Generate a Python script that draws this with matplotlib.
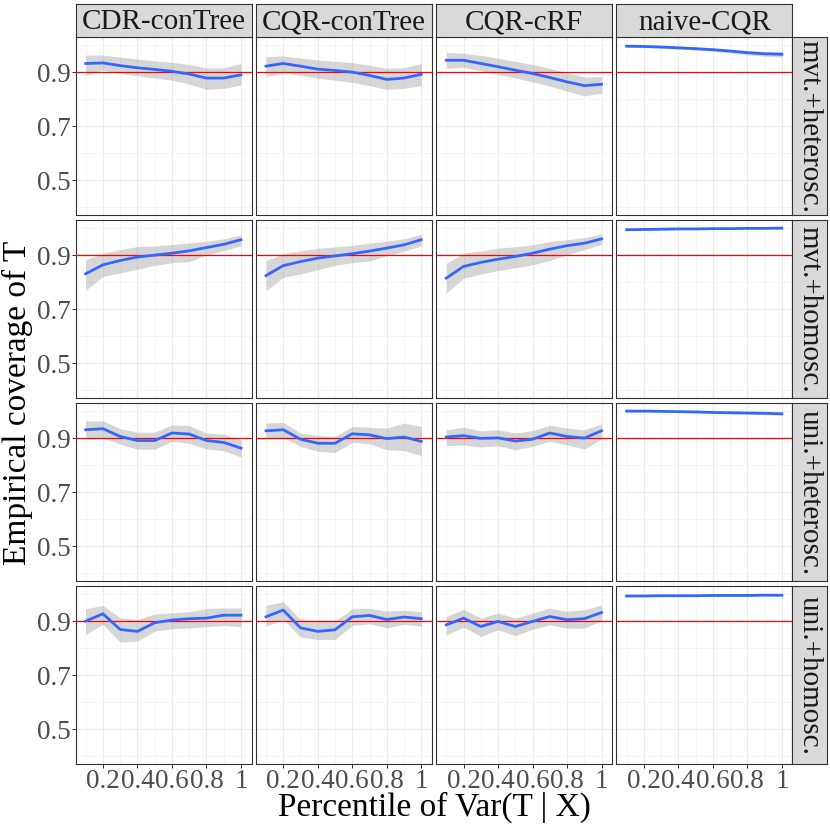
import numpy as np
import matplotlib
matplotlib.use("Agg")
import matplotlib.pyplot as plt

plt.rcParams['font.family'] = ['Liberation Serif', 'DejaVu Serif']

# facets
methods = ['CDR-conTree', 'CQR-conTree', 'CQR-cRF', 'naive-CQR']
settings = ['mvt.+heterosc.', 'mvt.+homosc.', 'uni.+heterosc.', 'uni.+homosc.']
pct = [0.1, 0.2, 0.3, 0.4, 0.5, 0.6, 0.7, 0.8, 0.9, 1.0]
target = 0.9

# mvt.+heterosc. (rows: methods)
mvt_het_mean = [[0.932, 0.934, 0.924, 0.916, 0.910, 0.903, 0.893, 0.878, 0.878, 0.890],
                [0.922, 0.932, 0.922, 0.911, 0.906, 0.900, 0.888, 0.873, 0.878, 0.892],
                [0.944, 0.944, 0.932, 0.920, 0.907, 0.895, 0.880, 0.864, 0.850, 0.855],
                [0.996, 0.995, 0.993, 0.990, 0.987, 0.983, 0.978, 0.972, 0.968, 0.966]]
mvt_het_lo = [[0.889, 0.907, 0.895, 0.886, 0.878, 0.870, 0.856, 0.836, 0.840, 0.852],
              [0.883, 0.897, 0.888, 0.878, 0.870, 0.862, 0.850, 0.836, 0.840, 0.850],
              [0.914, 0.918, 0.905, 0.892, 0.878, 0.864, 0.848, 0.830, 0.812, 0.822],
              [0.992, 0.991, 0.988, 0.985, 0.981, 0.977, 0.971, 0.964, 0.959, 0.956]]
mvt_het_hi = [[0.963, 0.963, 0.956, 0.948, 0.942, 0.936, 0.928, 0.916, 0.916, 0.932],
              [0.957, 0.960, 0.952, 0.945, 0.940, 0.935, 0.925, 0.914, 0.916, 0.932],
              [0.973, 0.970, 0.962, 0.951, 0.940, 0.928, 0.914, 0.898, 0.882, 0.884],
              [0.999, 0.999, 0.997, 0.995, 0.992, 0.989, 0.985, 0.980, 0.977, 0.976]]

# mvt.+homosc.
mvt_hom_mean = [[0.831, 0.864, 0.880, 0.893, 0.900, 0.907, 0.916, 0.928, 0.940, 0.957],
                [0.824, 0.861, 0.876, 0.889, 0.897, 0.905, 0.915, 0.926, 0.938, 0.957],
                [0.815, 0.858, 0.873, 0.885, 0.895, 0.907, 0.922, 0.935, 0.944, 0.960],
                [0.994, 0.995, 0.996, 0.997, 0.997, 0.998, 0.998, 0.999, 0.999, 1.000]]
mvt_hom_lo = [[0.770, 0.821, 0.834, 0.848, 0.862, 0.872, 0.876, 0.900, 0.916, 0.935],
              [0.768, 0.818, 0.830, 0.846, 0.862, 0.872, 0.878, 0.898, 0.914, 0.935],
              [0.759, 0.815, 0.830, 0.843, 0.853, 0.864, 0.880, 0.902, 0.920, 0.940],
              [0.991, 0.992, 0.993, 0.994, 0.995, 0.995, 0.996, 0.996, 0.997, 0.997]]
mvt_hom_hi = [[0.883, 0.907, 0.920, 0.932, 0.934, 0.939, 0.945, 0.952, 0.960, 0.975],
              [0.880, 0.905, 0.916, 0.925, 0.930, 0.936, 0.944, 0.952, 0.960, 0.977],
              [0.870, 0.907, 0.915, 0.926, 0.931, 0.938, 0.950, 0.957, 0.965, 0.979],
              [0.997, 0.998, 0.998, 0.999, 0.999, 1.000, 1.000, 1.001, 1.001, 1.002]]

# uni.+heterosc.
uni_het_mean = [[0.931, 0.935, 0.906, 0.891, 0.891, 0.919, 0.915, 0.891, 0.884, 0.863],
                [0.927, 0.931, 0.896, 0.881, 0.881, 0.916, 0.912, 0.898, 0.904, 0.888],
                [0.904, 0.909, 0.899, 0.901, 0.889, 0.896, 0.919, 0.906, 0.900, 0.927],
                [1.000, 1.000, 0.999, 0.998, 0.997, 0.995, 0.994, 0.993, 0.992, 0.990]]
uni_het_lo = [[0.902, 0.902, 0.878, 0.859, 0.859, 0.888, 0.881, 0.860, 0.853, 0.830],
              [0.902, 0.902, 0.869, 0.851, 0.847, 0.884, 0.879, 0.857, 0.854, 0.835],
              [0.872, 0.875, 0.867, 0.872, 0.857, 0.869, 0.888, 0.875, 0.860, 0.896],
              [0.998, 0.998, 0.997, 0.995, 0.994, 0.992, 0.990, 0.989, 0.987, 0.985]]
uni_het_hi = [[0.964, 0.964, 0.935, 0.922, 0.922, 0.949, 0.946, 0.919, 0.915, 0.894],
              [0.956, 0.958, 0.919, 0.910, 0.906, 0.943, 0.940, 0.937, 0.956, 0.943],
              [0.931, 0.940, 0.927, 0.931, 0.919, 0.928, 0.947, 0.937, 0.931, 0.953],
              [1.002, 1.002, 1.001, 1.000, 0.999, 0.998, 0.997, 0.996, 0.995, 0.994]]

# uni.+homosc.
uni_hom_mean = [[0.900, 0.927, 0.869, 0.862, 0.894, 0.904, 0.909, 0.911, 0.922, 0.922],
                [0.916, 0.941, 0.875, 0.862, 0.868, 0.916, 0.921, 0.906, 0.915, 0.909],
                [0.886, 0.911, 0.880, 0.899, 0.880, 0.899, 0.917, 0.905, 0.909, 0.932],
                [0.993, 0.993, 0.994, 0.994, 0.994, 0.995, 0.995, 0.995, 0.996, 0.996]]
uni_hom_lo = [[0.851, 0.888, 0.822, 0.826, 0.863, 0.872, 0.875, 0.879, 0.884, 0.879],
              [0.881, 0.906, 0.841, 0.832, 0.832, 0.884, 0.890, 0.875, 0.888, 0.881],
              [0.849, 0.878, 0.843, 0.868, 0.846, 0.870, 0.886, 0.874, 0.874, 0.902],
              [0.991, 0.991, 0.992, 0.992, 0.992, 0.993, 0.993, 0.993, 0.994, 0.994]]
uni_hom_hi = [[0.946, 0.958, 0.912, 0.906, 0.927, 0.931, 0.935, 0.946, 0.949, 0.949],
              [0.958, 0.972, 0.906, 0.900, 0.900, 0.946, 0.947, 0.937, 0.940, 0.935],
              [0.917, 0.944, 0.911, 0.930, 0.911, 0.930, 0.948, 0.936, 0.942, 0.960],
              [0.995, 0.995, 0.996, 0.996, 0.996, 0.997, 0.997, 0.997, 0.998, 0.998]]

means = [mvt_het_mean, mvt_hom_mean, uni_het_mean, uni_hom_mean]
lows = [mvt_het_lo, mvt_hom_lo, uni_het_lo, uni_hom_lo]
highs = [mvt_het_hi, mvt_hom_hi, uni_het_hi, uni_hom_hi]

x_ticks = [0.2, 0.4, 0.6, 0.8, 1.0]
x_ticklabels = ['0.2', '0.4', '0.6', '0.8', '1']
y_ticks = [0.5, 0.7, 0.9]
y_ticklabels = ['0.5', '0.7', '0.9']

# layout in pixels (830 x 830)
W = 830.0
col_left = [75.5, 255.8, 436.1, 616.4]
row_top = [37.0, 220.0, 403.0, 586.0]
pw, ph = 176.0, 178.3
strip_h = 33.0
strip_w = 34.3
border = '#333333'

def box(l, t, w, h):
    return [l / W, 1 - (t + h) / W, w / W, h / W]

fig = plt.figure(figsize=(8.3, 8.3), dpi=100)

for r in range(4):
    for c in range(4):
        ax = fig.add_axes(box(col_left[c], row_top[r], pw, ph))
        ax.set_xlim(0.041, 1.061)
        ax.set_ylim(0.37, 1.03)
        ax.set_xticks(x_ticks)
        ax.set_xticks([0.1, 0.3, 0.5, 0.7, 0.9], minor=True)
        ax.set_yticks(y_ticks)
        ax.set_yticks([0.4, 0.6, 0.8, 1.0], minor=True)
        ax.grid(which='major', color='#EBEBEB', lw=0.8, zorder=0)
        ax.grid(which='minor', color='#F2F2F2', lw=0.5, zorder=0)
        ax.set_axisbelow(True)
        for s in ax.spines.values():
            s.set_color(border)
            s.set_linewidth(0.8)
        ax.tick_params(which='minor', length=0)
        ax.tick_params(which='major', length=2.7, width=0.7, color=border,
                       labelsize=19.5, labelcolor='#4D4D4D', pad=1)
        if c == 0:
            ax.set_yticklabels(y_ticklabels)
        else:
            ax.tick_params(axis='y', which='major', length=0, labelleft=False)
        if r == 3:
            ax.set_xticklabels(x_ticklabels)
        else:
            ax.tick_params(axis='x', which='major', length=0, labelbottom=False)

        ax.fill_between(pct, lows[r][c], highs[r][c], color='#999999', alpha=0.4,
                        lw=0, zorder=2)
        ax.axhline(target, color='#FF0000', lw=0.9, zorder=3)
        ax.plot(pct, means[r][c], color='#3366FF', lw=2.0, zorder=4)

# top strips
for c in range(4):
    sax = fig.add_axes(box(col_left[c], row_top[0] - strip_h, pw, strip_h))
    sax.set_facecolor('#D9D9D9')
    sax.set_xticks([])
    sax.set_yticks([])
    for s in sax.spines.values():
        s.set_color(border)
        s.set_linewidth(0.8)
    sax.text(0.5, 0.45, methods[c], ha='center', va='center', fontsize=21,
             color='#1A1A1A', transform=sax.transAxes)

# right strips
for r in range(4):
    sax = fig.add_axes(box(col_left[3] + pw, row_top[r], strip_w, ph))
    sax.set_facecolor('#D9D9D9')
    sax.set_xticks([])
    sax.set_yticks([])
    for s in sax.spines.values():
        s.set_color(border)
        s.set_linewidth(0.8)
    sax.text(0.5, 0.5, settings[r], ha='center', va='center', fontsize=21,
             rotation=-90, color='#1A1A1A', transform=sax.transAxes)

fig.text(434 / W, 1 - 807 / W, 'Percentile of Var(T | X)', ha='center', va='center',
         fontsize=24)
fig.text(17 / W, 1 - 403 / W, 'Empirical coverage of T', ha='center', va='center',
         fontsize=24, rotation=90)

fig.savefig('out.png', dpi=100)
